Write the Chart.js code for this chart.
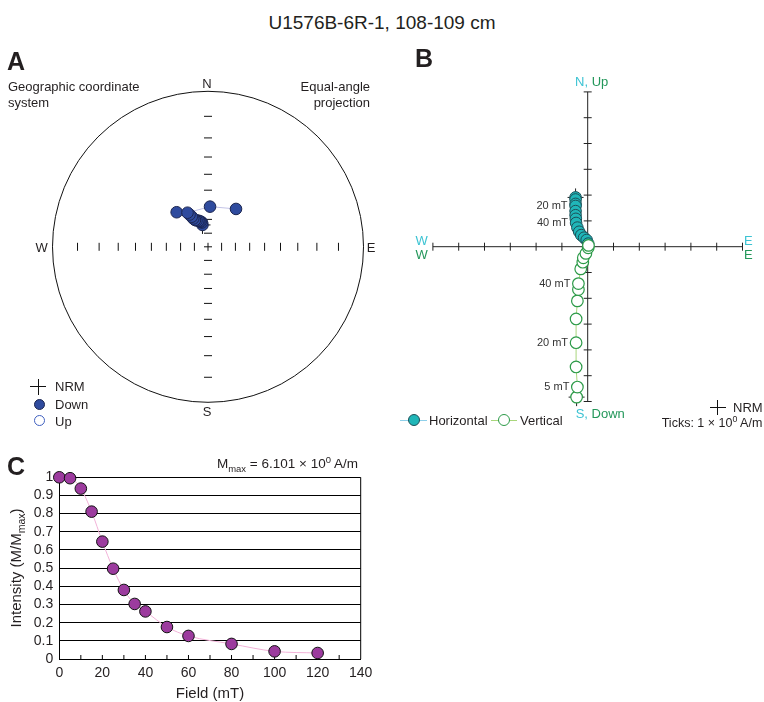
<!DOCTYPE html>
<html>
<head>
<meta charset="utf-8">
<title>U1576B-6R-1, 108-109 cm</title>
<script src="https://cdn.jsdelivr.net/npm/chart.js@4.4.1/dist/chart.umd.min.js"></script>
<style>
  body { margin:0; width:764px; height:702px; position:relative; overflow:hidden; background:#fff;
         font-family:"Liberation Sans", Arial, sans-serif; color:#231f20; }
  canvas { position:absolute; }
  .t { position:absolute; white-space:nowrap; line-height:1; font-size:13px; }
  .panel { position:absolute; font-weight:bold; font-size:25px; line-height:1; }
  .mid { transform:translateX(-50%); }
  .cyan { color:#3cc3d3; }
  .green { color:#23975a; }
  .sym { position:absolute; box-sizing:border-box; }
  sub, sup { font-size:70%; line-height:0; }
</style>
</head>
<body>

<canvas id="chartA" style="left:0;top:40px" width="400" height="400"></canvas>
<canvas id="chartB" style="left:400px;top:40px" width="364" height="400"></canvas>
<canvas id="chartC" style="left:0;top:445px" width="380" height="257"></canvas>

<div class="t" style="left:0;width:764px;text-align:center;top:12.5px;font-size:19px">U1576B-6R-1, 108-109 cm</div>

<!-- A: stereonet labels -->
<div class="panel" style="left:7px;top:49px">A</div>
<div class="t" style="left:8px;top:80px">Geographic coordinate</div>
<div class="t" style="left:8px;top:96px">system</div>
<div class="t" style="right:394px;top:80px;text-align:right">Equal-angle</div>
<div class="t" style="right:394px;top:96px;text-align:right">projection</div>
<div class="t mid" style="left:207px;top:77px">N</div>
<div class="t mid" style="left:207px;top:405px">S</div>
<div class="t mid" style="left:41.7px;top:241.3px">W</div>
<div class="t mid" style="left:371px;top:241.3px">E</div>
<div class="sym" style="left:30px;top:386px;width:16px;height:1px;background:#111"></div>
<div class="sym" style="left:37.5px;top:378.5px;width:1px;height:16px;background:#111"></div>
<div class="t" style="left:55px;top:380px">NRM</div>
<div class="sym" style="left:34px;top:399px;width:11px;height:11px;border-radius:50%;background:#2f4b9e;border:1px solid #1b2550"></div>
<div class="t" style="left:55px;top:398px">Down</div>
<div class="sym" style="left:34px;top:415px;width:11px;height:11px;border-radius:50%;background:#fff;border:1px solid #3f5fbf"></div>
<div class="t" style="left:55px;top:414.5px">Up</div>

<!-- B: Zijderveld labels -->
<div class="panel" style="left:415px;top:46px">B</div>
<div class="t" style="left:575px;top:75.3px"><span class="cyan">N,</span> <span class="green">Up</span></div>
<div class="t" style="left:575.7px;top:407px"><span class="cyan">S,</span> <span class="green">Down</span></div>
<div class="t mid cyan" style="left:421.7px;top:233.6px">W</div>
<div class="t mid green" style="left:421.7px;top:247.6px">W</div>
<div class="t mid cyan" style="left:748.3px;top:233.6px">E</div>
<div class="t mid green" style="left:748.3px;top:247.6px">E</div>
<div class="sym" style="left:400px;top:419.5px;width:27px;height:1px;background:#8fd0ea"></div>
<div class="sym" style="left:407.5px;top:414px;width:12px;height:12px;border-radius:50%;background:#20b6b8;border:1px solid #1d4f57"></div>
<div class="t" style="left:429px;top:413.6px">Horizontal</div>
<div class="sym" style="left:491px;top:419.5px;width:26px;height:1px;background:#a9d67c"></div>
<div class="sym" style="left:498px;top:414px;width:12px;height:12px;border-radius:50%;background:#fff;border:1px solid #2c9a48"></div>
<div class="t" style="left:520px;top:413.6px">Vertical</div>
<div class="sym" style="left:709.5px;top:406.5px;width:16px;height:1px;background:#111"></div>
<div class="sym" style="left:717px;top:399.5px;width:1px;height:15px;background:#111"></div>
<div class="t" style="left:733px;top:401px">NRM</div>
<div class="t" style="left:661.7px;top:417px;font-size:12.5px">Ticks: 1 × 10<sup>0</sup> A/m</div>

<!-- C: demagnetisation curve labels -->
<div class="panel" style="left:7px;top:454px">C</div>
<div class="t" style="left:217px;top:456.6px;font-size:13.5px">M<sub>max</sub> = 6.101 × 10<sup>0</sup> A/m</div>
<div class="t mid" style="left:210px;top:685px;font-size:15px">Field (mT)</div>
<div class="t" style="left:15px;top:568px;font-size:15px;transform:translate(-50%,-50%) rotate(-90deg)">Intensity (M/M<sub>max</sub>)</div>

<script>
// --- data ---
const fieldMT = [0, 5, 10, 15, 20, 25, 30, 35, 40, 50, 60, 80, 100, 120];

// A: equal-angle stereonet, all lower hemisphere (Down)
const stereoDec = [345.8, 346.1, 343.8, 341.6, 339.6, 336.5, 334.1, 332.5, 331.6, 330.2, 317.8, 329.0, 2.9, 36.5];
const stereoInc = [73.5, 71.7, 70.9, 70.3, 69.7, 69.0, 68.3, 66.8, 65.2, 63.1, 56.6, 61.3, 61.0, 56.3];
const incTicks  = [80, 70, 60, 50, 40, 30, 20, 10];

// B: orthogonal vector plot, A/m
const horizE = [-0.47, -0.47, -0.47, -0.47, -0.47, -0.47, -0.46, -0.45, -0.40, -0.33, -0.25, -0.14, -0.04, 0.02];
const horizN = [1.91, 1.83, 1.66, 1.58, 1.38, 1.22, 1.08, 0.92, 0.74, 0.58, 0.45, 0.35, 0.26, 0.12];
const vertE  = [-0.43, -0.40, -0.45, -0.45, -0.45, -0.40, -0.36, -0.36, -0.27, -0.19, -0.17, -0.07, 0.02, 0.03];
const vertUp = [-5.83, -5.44, -4.66, -3.72, -2.80, -2.10, -1.66, -1.43, -0.86, -0.60, -0.43, -0.26, -0.04, 0.05];
const zijTicks = [-6, -5, -4, -3, -2, -1, 0, 1, 2, 3, 4, 5, 6];
const zijLabels = [
  { proj: 'h', idx: 3, text: '20 mT' },
  { proj: 'h', idx: 7, text: '40 mT' },
  { proj: 'v', idx: 1, text: '5 mT' },
  { proj: 'v', idx: 3, text: '20 mT' },
  { proj: 'v', idx: 7, text: '40 mT' },
];

// C: normalised intensity
const intensity = [1.0, 0.995, 0.938, 0.811, 0.646, 0.497, 0.380, 0.303, 0.262, 0.176, 0.127, 0.083, 0.042, 0.033];

const FONT = '"Liberation Sans", Arial, sans-serif';
Chart.defaults.font.family = FONT;
Chart.defaults.color = '#231f20';

const noChrome = { legend: { display: false }, tooltip: { enabled: false } };

function cross(ctx, x, y, hw, hh) {
  ctx.moveTo(x - hw, y); ctx.lineTo(x + hw, y);
  ctx.moveTo(x, y - hh); ctx.lineTo(x, y + hh);
}

// ---------- A ----------
const stereoPts = stereoDec.map((d, i) => {
  const r = Math.tan((90 - stereoInc[i]) * Math.PI / 360);
  const a = d * Math.PI / 180;
  return { x: r * Math.sin(a), y: r * Math.cos(a) };
});

const stereoGrid = {
  id: 'stereoGrid',
  beforeDatasetsDraw(chart) {
    const { ctx, scales: { x, y } } = chart;
    const cx = x.getPixelForValue(0), cy = y.getPixelForValue(0);
    const R  = x.getPixelForValue(1) - cx;
    ctx.save();
    ctx.strokeStyle = '#111';
    ctx.lineWidth = 1;
    ctx.beginPath();
    ctx.arc(cx, cy, R, 0, 2 * Math.PI);
    ctx.stroke();
    ctx.beginPath();
    for (const inc of incTicks) {
      const r = R * Math.tan((90 - inc) * Math.PI / 360);
      for (const s of [-1, 1]) {
        ctx.moveTo(cx + s * r, cy - 4); ctx.lineTo(cx + s * r, cy + 4);
        ctx.moveTo(cx - 4, cy + s * r); ctx.lineTo(cx + 4, cy + s * r);
      }
    }
    cross(ctx, cx, cy, 4, 4);
    const n = stereoPts[0];
    cross(ctx, x.getPixelForValue(n.x), y.getPixelForValue(n.y), 8, 9);
    ctx.stroke();
    ctx.restore();
  }
};

new Chart(document.getElementById('chartA'), {
  type: 'scatter',
  data: {
    datasets: [{
      data: stereoPts,
      showLine: true,
      clip: false,
      borderColor: '#c3c3e6',
      borderWidth: 1,
      pointRadius: 5.8,
      pointBackgroundColor: '#2f4b9e',
      pointBorderColor: '#1b2550',
      pointBorderWidth: 1
    }]
  },
  options: {
    responsive: false,
    animation: false,
    layout: { padding: { left: 52.5, top: 51.3, right: 36.5, bottom: 37.7 } },
    plugins: noChrome,
    scales: {
      x: { type: 'linear', min: -1, max: 1, display: false },
      y: { type: 'linear', min: -1, max: 1, display: false }
    }
  },
  plugins: [stereoGrid]
});

// ---------- B ----------
const horizPts = horizE.map((e, i) => ({ x: e, y: horizN[i] }));
const vertPts  = vertE.map((e, i) => ({ x: e, y: vertUp[i] }));

const zijAxes = {
  id: 'zijAxes',
  beforeDatasetsDraw(chart) {
    const { ctx, scales: { x, y } } = chart;
    const ox = x.getPixelForValue(0), oy = y.getPixelForValue(0);
    ctx.save();
    ctx.strokeStyle = '#222';
    ctx.lineWidth = 1;
    ctx.beginPath();
    ctx.moveTo(x.getPixelForValue(-6), oy); ctx.lineTo(x.getPixelForValue(6), oy);
    ctx.moveTo(ox, y.getPixelForValue(-6)); ctx.lineTo(ox, y.getPixelForValue(6));
    for (const t of zijTicks) {
      const px = x.getPixelForValue(t), py = y.getPixelForValue(t);
      ctx.moveTo(px, oy - 4); ctx.lineTo(px, oy + 4);
      ctx.moveTo(ox - 4, py); ctx.lineTo(ox + 4, py);
    }
    cross(ctx, x.getPixelForValue(horizPts[0].x), y.getPixelForValue(horizPts[0].y), 8, 9);
    cross(ctx, x.getPixelForValue(vertPts[0].x), y.getPixelForValue(vertPts[0].y), 8, 9);
    ctx.stroke();
    ctx.restore();
  },
  afterDatasetsDraw(chart) {
    const { ctx, scales: { x, y } } = chart;
    ctx.save();
    ctx.fillStyle = '#333';
    ctx.font = '11px ' + FONT;
    ctx.textAlign = 'right';
    ctx.textBaseline = 'middle';
    for (const l of zijLabels) {
      const p = (l.proj === 'h' ? horizPts : vertPts)[l.idx];
      ctx.fillText(l.text, x.getPixelForValue(p.x) - 8, y.getPixelForValue(p.y));
    }
    ctx.restore();
  }
};

new Chart(document.getElementById('chartB'), {
  type: 'scatter',
  data: {
    datasets: [
      {
        label: 'Vertical',
        data: vertPts,
        showLine: true,
        clip: false,
        borderColor: '#a9d67c',
        borderWidth: 1,
        pointRadius: 5.8,
        pointBackgroundColor: '#fff',
        pointBorderColor: '#2c9a48',
        pointBorderWidth: 1.2
      },
      {
        label: 'Horizontal',
        data: horizPts,
        showLine: true,
        clip: false,
        borderColor: '#8fd0ea',
        borderWidth: 1,
        pointRadius: 5.8,
        pointBackgroundColor: '#20b6b8',
        pointBorderColor: '#1d4f57',
        pointBorderWidth: 1
      }
    ]
  },
  options: {
    responsive: false,
    animation: false,
    layout: { padding: { left: 32.9, top: 51.9, right: 21.5, bottom: 38.5 } },
    plugins: noChrome,
    scales: {
      x: { type: 'linear', min: -6, max: 6, display: false },
      y: { type: 'linear', min: -6, max: 6, display: false }
    }
  },
  plugins: [zijAxes]
});

// ---------- C ----------
const frameC = {
  id: 'frameC',
  beforeDatasetsDraw(chart) {
    const { ctx, chartArea: a, scales: { x } } = chart;
    ctx.save();
    ctx.strokeStyle = '#000';
    ctx.lineWidth = 1;
    ctx.beginPath();
    ctx.moveTo(a.right, a.top); ctx.lineTo(a.right, a.bottom);
    for (let v = 10; v < 140; v += 10) {
      const px = x.getPixelForValue(v);
      ctx.moveTo(px, a.bottom); ctx.lineTo(px, a.bottom - 4);
    }
    ctx.stroke();
    ctx.restore();
  }
};

new Chart(document.getElementById('chartC'), {
  type: 'scatter',
  data: {
    datasets: [{
      data: fieldMT.map((f, i) => ({ x: f, y: intensity[i] })),
      showLine: true,
      clip: false,
      borderColor: '#f2b2d8',
      borderWidth: 1,
      cubicInterpolationMode: 'monotone',
      pointRadius: 5.8,
      pointBackgroundColor: '#9c3b9e',
      pointBorderColor: '#111',
      pointBorderWidth: 1
    }]
  },
  options: {
    responsive: false,
    animation: false,
    layout: { padding: { left: 0, top: 32.3, right: 19.3, bottom: 0 } },
    plugins: noChrome,
    scales: {
      x: {
        type: 'linear', min: 0, max: 140,
        ticks: { stepSize: 20, color: '#231f20', font: { size: 14 }, padding: 6 },
        grid: { display: false, drawTicks: false },
        border: { color: '#000' },
        afterFit: s => { s.height = 43; }
      },
      y: {
        type: 'linear', min: 0, max: 1,
        ticks: { stepSize: 0.1, autoSkip: false, color: '#231f20', font: { size: 14 }, padding: 6,
                 callback: v => +v.toFixed(1) },
        grid: { color: '#000', drawTicks: false },
        border: { color: '#000' },
        afterFit: s => { s.width = 59.3; }
      }
    }
  },
  plugins: [frameC]
});
</script>
</body>
</html>
